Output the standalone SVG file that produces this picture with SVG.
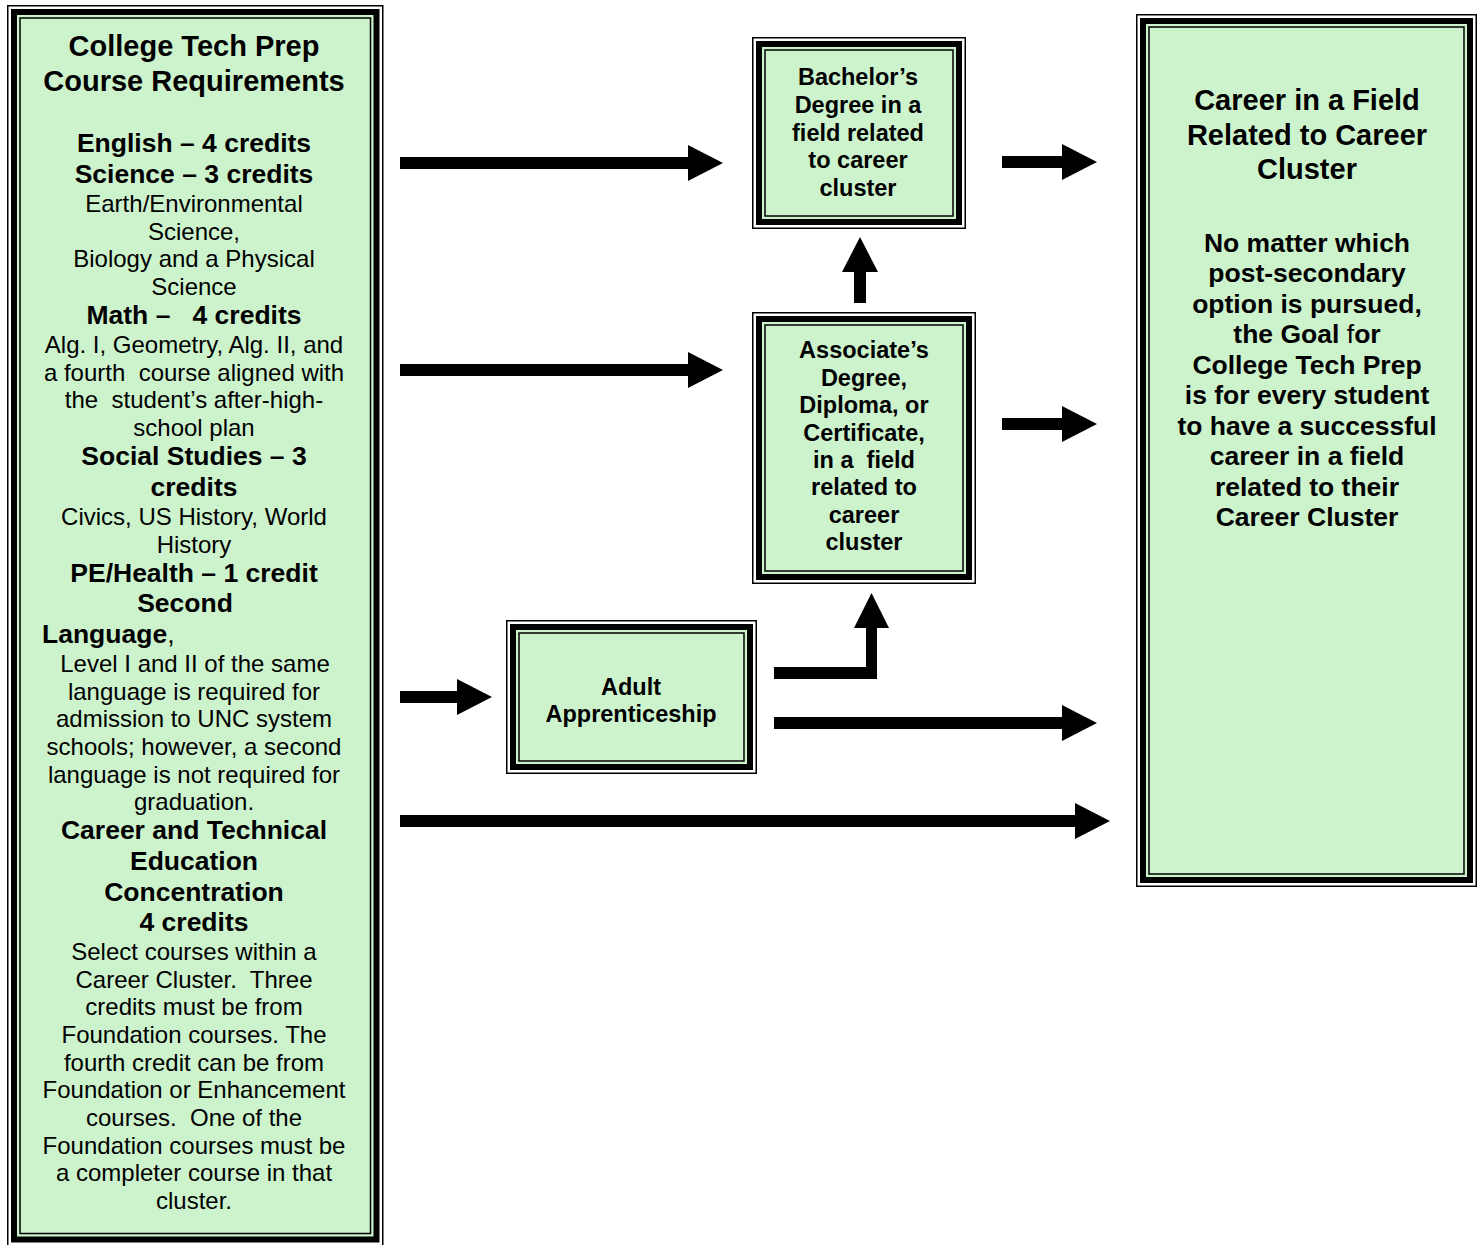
<svg xmlns="http://www.w3.org/2000/svg" width="1481" height="1245" viewBox="0 0 1481 1245">
<style>
.outer{fill:#ffffff;stroke:#000;stroke-width:1.5}
.thick{fill:#CDF3CD;stroke:#000;stroke-width:6}
.thin{fill:none;stroke:#000;stroke-width:1.5}
text{font-family:"Liberation Sans",Arial,sans-serif;fill:#000;white-space:pre;text-anchor:middle}
.b{font-weight:bold}
.n{font-weight:normal}
.title{font-size:29px;font-weight:bold}
.h{font-size:26.5px;font-weight:bold}
.p{font-size:24px}
.m{font-size:23.5px;font-weight:bold}
.ct{font-size:29px;font-weight:bold}
.cb{font-size:26.5px;font-weight:bold}
.arrow{fill:#000}
</style>
<rect width="1481" height="1245" fill="#fff"/>

<g id="requirements">
<rect class="outer" x="7.75" y="5.75" width="375" height="1240"/>
<rect class="thick" x="14" y="12" width="362.5" height="1227.5"/>
<rect class="thin" x="20" y="18" width="350.5" height="1215.5"/>
<text class="title" x="194" y="56">College Tech Prep</text>
<text class="title" x="194" y="91">Course Requirements</text>
<text class="h" x="194" y="152">English – 4 credits</text>
<text class="h" x="194" y="183">Science – 3 credits</text>
<text class="p" x="194" y="212">Earth/Environmental</text>
<text class="p" x="194" y="240">Science,</text>
<text class="p" x="194" y="267">Biology and a Physical</text>
<text class="p" x="194" y="295">Science</text>
<text class="h" x="194" y="324">Math –   4 credits</text>
<text class="p" x="194" y="353">Alg. I, Geometry, Alg. II, and</text>
<text class="p" x="194" y="381">a fourth  course aligned with</text>
<text class="p" x="194" y="408">the  student’s after-high-</text>
<text class="p" x="194" y="436">school plan</text>
<text class="h" x="194" y="465">Social Studies – 3</text>
<text class="h" x="194" y="496">credits</text>
<text class="p" x="194" y="525">Civics, US History, World</text>
<text class="p" x="194" y="553">History</text>
<text class="h" x="194" y="582">PE/Health – 1 credit</text>
<text class="h" x="185" y="612">Second</text>
<text class="h" x="42" y="643" style="text-anchor:start">Language<tspan class="n">,</tspan></text>
<text class="p" x="195" y="672">Level I and II of the same</text>
<text class="p" x="194" y="700">language is required for</text>
<text class="p" x="194" y="727">admission to UNC system</text>
<text class="p" x="194" y="755">schools; however, a second</text>
<text class="p" x="194" y="783">language is not required for</text>
<text class="p" x="194" y="810">graduation.</text>
<text class="h" x="194" y="839">Career and Technical</text>
<text class="h" x="194" y="870">Education</text>
<text class="h" x="194" y="901">Concentration</text>
<text class="h" x="194" y="931">4 credits</text>
<text class="p" x="194" y="960">Select courses within a</text>
<text class="p" x="194" y="988">Career Cluster.  Three</text>
<text class="p" x="194" y="1015">credits must be from</text>
<text class="p" x="194" y="1043">Foundation courses. The</text>
<text class="p" x="194" y="1071">fourth credit can be from</text>
<text class="p" x="194" y="1098">Foundation or Enhancement</text>
<text class="p" x="194" y="1126">courses.  One of the</text>
<text class="p" x="194" y="1154">Foundation courses must be</text>
<text class="p" x="194" y="1181">a completer course in that</text>
<text class="p" x="194" y="1209">cluster.</text>
</g>

<g id="bachelors">
<rect class="outer" x="752.75" y="37.75" width="212.5" height="190.5"/>
<rect class="thick" x="759" y="44" width="200" height="178"/>
<rect class="thin" x="765" y="50" width="188" height="166"/>
<text class="m" x="858" y="85">Bachelor’s</text>
<text class="m" x="858" y="113">Degree in a</text>
<text class="m" x="858" y="140.5">field related</text>
<text class="m" x="858" y="168">to career</text>
<text class="m" x="858" y="195.5">cluster</text>
</g>

<g id="associates">
<rect class="outer" x="752.75" y="312.75" width="222.5" height="270.5"/>
<rect class="thick" x="759" y="319" width="210" height="258"/>
<rect class="thin" x="765" y="325" width="198" height="246"/>
<text class="m" x="864" y="358.3">Associate’s</text>
<text class="m" x="864" y="385.7">Degree,</text>
<text class="m" x="864" y="413.1">Diploma, or</text>
<text class="m" x="864" y="440.5">Certificate,</text>
<text class="m" x="864" y="467.9">in a  field</text>
<text class="m" x="864" y="495.3">related to</text>
<text class="m" x="864" y="522.7">career</text>
<text class="m" x="864" y="550.1">cluster</text>
</g>

<g id="apprenticeship">
<rect class="outer" x="506.75" y="620.75" width="249.5" height="152.5"/>
<rect class="thick" x="513" y="627" width="237" height="140"/>
<rect class="thin" x="519" y="633" width="225" height="128"/>
<text class="m" x="631" y="695">Adult</text>
<text class="m" x="631" y="722">Apprenticeship</text>
</g>

<g id="career">
<rect class="outer" x="1136.75" y="14.75" width="339.5" height="871.5"/>
<rect class="thick" x="1143" y="21" width="327" height="859"/>
<rect class="thin" x="1149" y="27" width="315" height="847"/>
<text class="ct" x="1307" y="110">Career in a Field</text>
<text class="ct" x="1307" y="144.5">Related to Career</text>
<text class="ct" x="1307" y="179">Cluster</text>
<text class="cb" x="1307" y="251.7">No matter which</text>
<text class="cb" x="1307" y="282.2">post-secondary</text>
<text class="cb" x="1307" y="312.7">option is pursued,</text>
<text class="cb" x="1307" y="343.2">the Goal <tspan class="n">f</tspan>or</text>
<text class="cb" x="1307" y="373.7">College Tech Prep</text>
<text class="cb" x="1307" y="404.2">is for every student</text>
<text class="cb" x="1307" y="434.7">to have a successful</text>
<text class="cb" x="1307" y="465.2">career in a field</text>
<text class="cb" x="1307" y="495.7">related to their</text>
<text class="cb" x="1307" y="526.2">Career Cluster</text>
</g>

<g id="connectors">
<polygon class="arrow" points="400,157 688,157 688,145 723,163 688,181 688,169 400,169"/>
<polygon class="arrow" points="400,364 688,364 688,352 723,370 688,388 688,376 400,376"/>
<polygon class="arrow" points="400,691 457,691 457,679 492,697 457,715 457,703 400,703"/>
<polygon class="arrow" points="400,815 1075,815 1075,803 1110,821 1075,839 1075,827 400,827"/>
<polygon class="arrow" points="1002,156 1062,156 1062,144 1097,162 1062,180 1062,168 1002,168"/>
<polygon class="arrow" points="1002,418 1062,418 1062,406 1097,424 1062,442 1062,430 1002,430"/>
<polygon class="arrow" points="774,717 1062,717 1062,705 1097,723 1062,741 1062,729 774,729"/>
<polygon class="arrow" points="854,303 854,272 842,272 860,237 878,272 866,272 866,303"/>
<polygon class="arrow" points="774,667 866,667 866,628 854,628 871.5,593 889,628 877,628 877,679 774,679"/>
</g>
</svg>
